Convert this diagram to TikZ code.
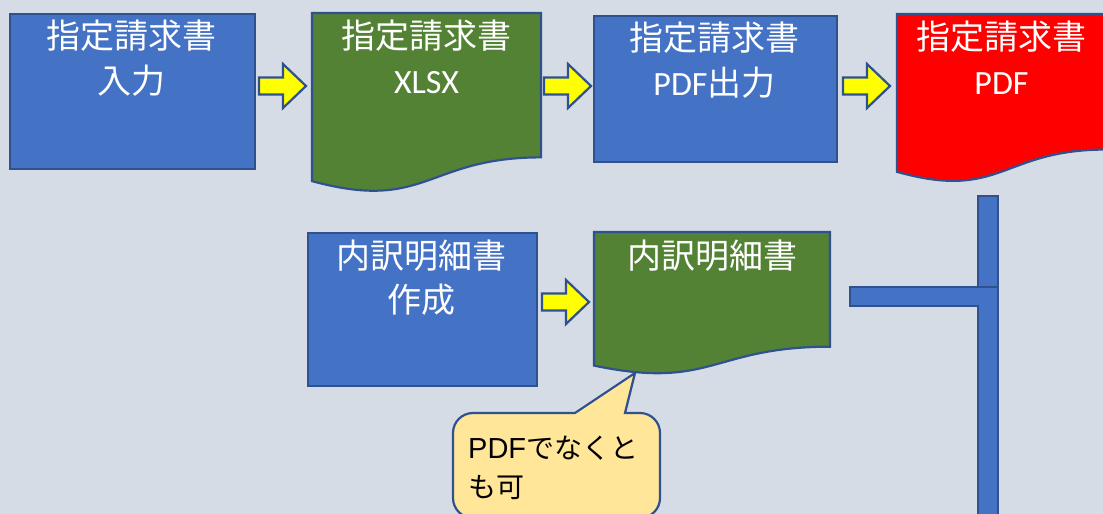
\documentclass[tikz,border=0pt]{standalone}
\usepackage{fontspec}
\setmainfont{Noto Sans CJK JP}
\newfontfamily\lat{Carlito}
\newfontfamily\notelat{Liberation Sans}
\usetikzlibrary{calc}
\definecolor{bgc}{HTML}{D6DCE5}
\definecolor{bluefill}{HTML}{4472C4}
\definecolor{edgec}{HTML}{2F528F}
\definecolor{greenfill}{HTML}{548235}
\definecolor{redfill}{HTML}{FF0000}
\definecolor{yellowfill}{HTML}{FFFF00}
\definecolor{notefill}{HTML}{FFE699}
\tikzset{
  shapeline/.style={draw=edgec, line width=2.2pt, line join=miter},
  procbox/.style={shapeline, fill=bluefill, rectangle, inner sep=0pt, anchor=north west},
  blockarrow/.style={shapeline, fill=yellowfill},
  wtxt/.style={text=white, anchor=base, inner sep=0pt, font=\fontsize{34}{40}\selectfont},
  ntxt/.style={text=black, anchor=base west, inner sep=0pt, font=\fontsize{28}{34}\selectfont},
}
\newcommand\docshape[5]{%
  \draw[shapeline, fill=#1] (#2,#3) -- ({#2+#4},#3) -- ({#2+#4},{#3+0.802*#5})
    .. controls ({#2+0.5*#4},{#3+0.802*#5}) and ({#2+0.5*#4},{#3+1.1075*#5}) .. (#2,{#3+0.934*#5}) -- cycle;}
\newcommand\yarrow[2]{%
  \draw[blockarrow] (#1,{#2-8.5}) -- ({#1+24},{#2-8.5}) -- ({#1+24},{#2-22}) -- ({#1+47},#2)
    -- ({#1+24},{#2+22}) -- ({#1+24},{#2+8.5}) -- (#1,{#2+8.5}) -- cycle;}
\begin{document}
\begin{tikzpicture}[x=1pt,y=-1pt]
\useasboundingbox (0,0) rectangle (1103,514);
\fill[bgc] (0,0) rectangle (1103,514);
\clip (0,0) rectangle (1103,514);

% top row
\node[procbox, minimum width=245pt, minimum height=155pt] (b1) at (9,13) {};
\node[wtxt] (b1a) at (131.5,48) {指定請求書};
\node[wtxt] (b1b) at (131.5,93) {入力};

\yarrow{259}{86}

\docshape{greenfill}{312}{13}{229}{180}
\node[wtxt] (d2a) at (426.5,48) {指定請求書};
\node[wtxt] (d2b) at (426.5,93) {\lat XLSX};

\yarrow{544}{86}

\node[procbox, minimum width=243pt, minimum height=146pt] (b3) at (593,15) {};
\node[wtxt] (b3a) at (714.5,50) {指定請求書};
\node[wtxt] (b3b) at (714.5,95) {{\lat PDF}出力};

\yarrow{843}{86}

\docshape{redfill}{897}{14}{209}{169}
\node[wtxt] (d4a) at (1001.5,49) {指定請求書};
\node[wtxt] (d4b) at (1001.5,94) {\lat PDF};

% bar
\draw[shapeline, fill=bluefill] (978,196) rectangle (998,295);
\draw[shapeline, fill=bluefill] (850,287) -- (998,287) -- (998,525) -- (978,525) -- (978,306) -- (850,306) -- cycle;

% second row
\node[procbox, minimum width=229pt, minimum height=153pt] (b5) at (307,232) {};
\node[wtxt] (b5a) at (421.5,268) {内訳明細書};
\node[wtxt] (b5b) at (421.5,312) {作成};

\yarrow{542}{302}

\docshape{greenfill}{594}{232}{236}{143}
\node[wtxt] (d6a) at (712,268) {内訳明細書};
\coordinate (tip) at (635,373);

% callout
\draw[shapeline, fill=notefill] (453,470) [rounded corners=20pt] -- (453,413) [sharp corners] -- (575,413) -- (tip) -- (625,413)
  [rounded corners=20pt] -- (660,413) -- (660,518) -- (453,518) [sharp corners] -- cycle;
\node[ntxt] (n1) at (468,458) {{\notelat\fontsize{29}{34}\selectfont PDF}でなくと};
\node[ntxt] (n2) at (468,497) {も可};
\end{tikzpicture}
\end{document}
